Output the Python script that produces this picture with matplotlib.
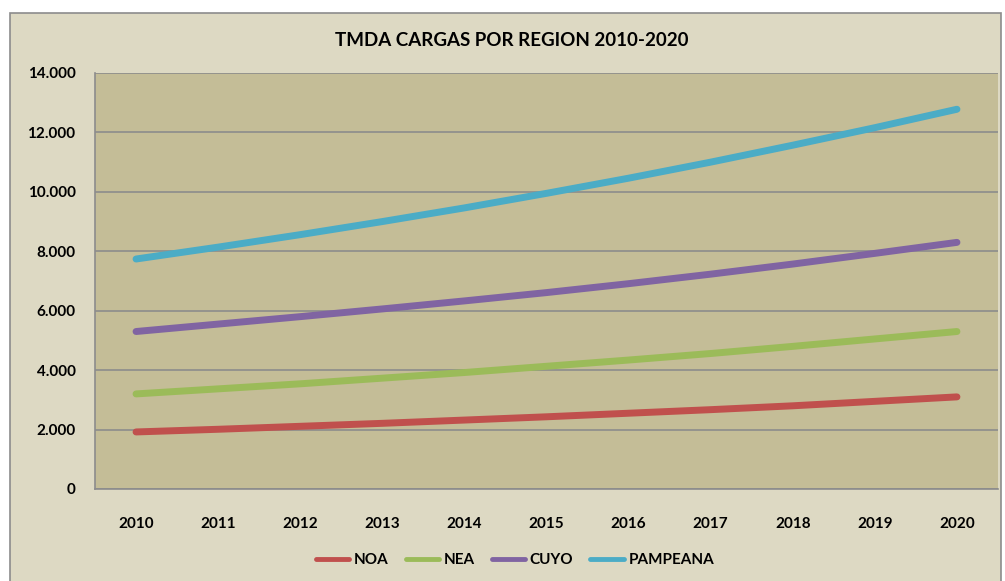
import matplotlib
matplotlib.use("Agg")
import matplotlib.pyplot as plt
from matplotlib.patches import Rectangle
from matplotlib.ticker import FuncFormatter

years = [2010, 2011, 2012, 2013, 2014, 2015, 2016, 2017, 2018, 2019, 2020]
noa = [1920, 2010, 2110, 2210, 2320, 2430, 2550, 2670, 2800, 2950, 3100]
nea = [3200, 3370, 3540, 3730, 3920, 4130, 4340, 4560, 4800, 5050, 5300]
cuyo = [5300, 5550, 5800, 6060, 6330, 6610, 6910, 7230, 7570, 7930, 8300]
pampeana = [7740, 8140, 8560, 9000, 9460, 9950, 10460, 11000, 11570, 12160, 12780]
series_names = ["NOA", "NEA", "CUYO", "PAMPEANA"]
colors = ["#C0504D", "#9BBB59", "#8064A2", "#4BACC6"]
title = "TMDA CARGAS POR REGION 2010-2020"

plt.rcParams['font.family'] = ['Lato', 'DejaVu Sans']
fig = plt.figure(figsize=(10.05, 5.81), dpi=100)
fig.patch.set_facecolor("white")
fig.patches.append(Rectangle((10/1005, -0.01), (1001-10)/1005, (581-13)/581 + 0.01,
                             transform=fig.transFigure, facecolor="#DDD9C3",
                             edgecolor="#8C8C8C", linewidth=1.2, zorder=-5))

ax = fig.add_axes([95/1005, (581-489)/581, (998-95)/1005, (489-73)/581])
ax.set_zorder(2)
ax.set_facecolor("#C4BD97")
xs = list(range(len(years)))
for vals, name, c in zip([noa, nea, cuyo, pampeana], series_names, colors):
    ax.plot(xs, vals, color=c, linewidth=5, solid_capstyle="round", label=name, zorder=3)

ax.set_xlim(-0.5, len(years) - 0.5)
ax.set_ylim(0, 14000)
ax.set_yticks(range(0, 14001, 2000))
ax.yaxis.set_major_formatter(FuncFormatter(lambda v, p: "0" if v == 0 else f"{int(v):,}".replace(",", ".")))
ax.set_xticks(xs)
ax.set_xticklabels([str(y) for y in years])
ax.grid(axis="y", color="#8C8C8C", linewidth=1.2, zorder=1)
ax.set_axisbelow(True)
for s in ["top", "right"]:
    ax.spines[s].set_visible(False)
for s in ["left", "bottom"]:
    ax.spines[s].set_color("#8C8C8C")
    ax.spines[s].set_linewidth(1.2)
ax.tick_params(axis="both", length=0, labelsize=11)
ax.tick_params(axis="x", pad=20)
ax.tick_params(axis="y", pad=14)
for lab in ax.get_xticklabels() + ax.get_yticklabels():
    lab.set_fontweight("bold")

fig.text(512/1005, 1 - 40/581, title, ha="center", va="center", fontsize=13.5, fontweight="bold")

leg = fig.legend(loc="center", bbox_to_anchor=(515/1005, 1 - 560/581), ncol=4, frameon=False,
                 prop={"weight": "bold", "size": 11}, handlelength=2.2, handletextpad=0.3,
                 columnspacing=1.1)
for h in leg.get_lines():
    h.set_linewidth(3.5)

fig.savefig("out.png", dpi=100, facecolor=fig.get_facecolor())
